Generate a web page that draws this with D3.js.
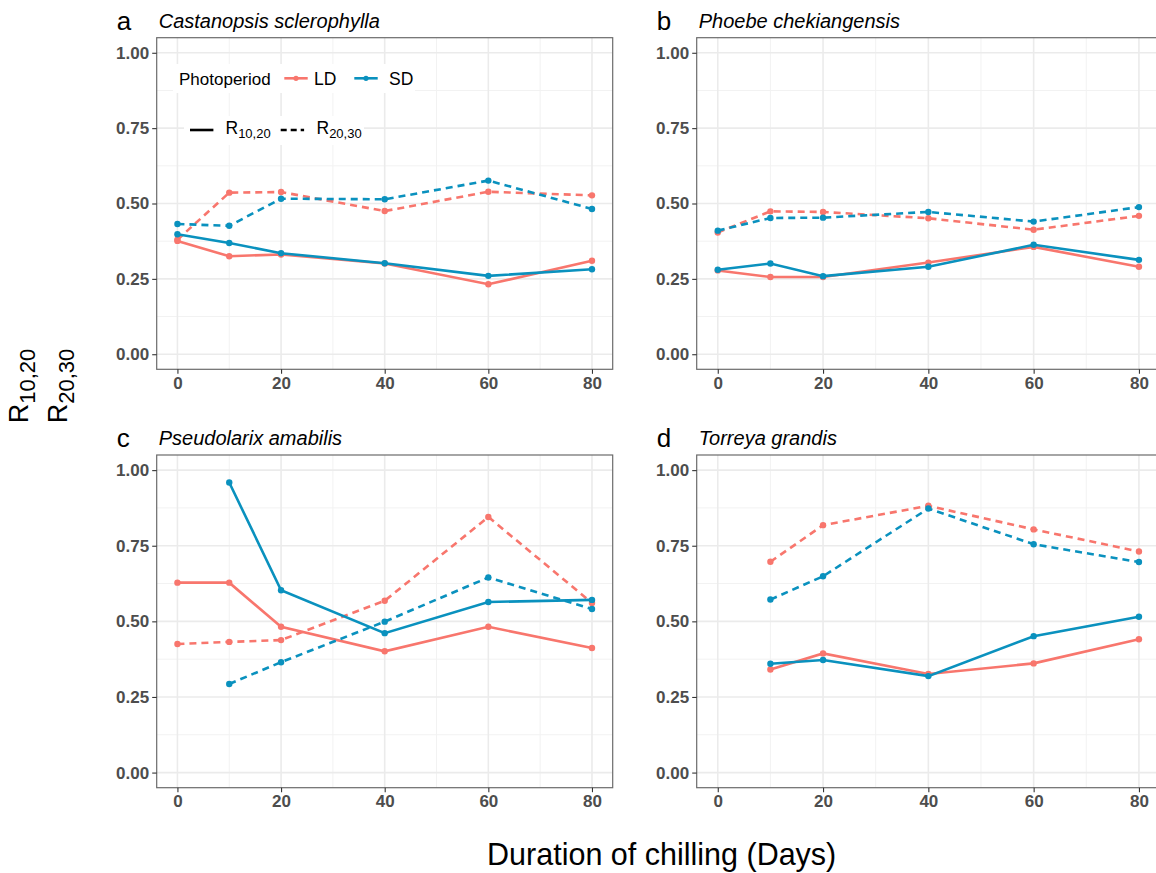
<!DOCTYPE html>
<html>
<head>
<meta charset="utf-8">
<script src="https://cdn.jsdelivr.net/npm/d3@7"></script>
<style>
  body { margin: 0; background: #fff; }
  svg { font-family: "Liberation Sans", Arial, sans-serif; }
</style>
</head>
<body>
<svg id="chart" width="1156" height="873"></svg>
<script>
// chilling durations (days)
const days = [0, 10, 20, 40, 60, 80];
const xTicks = [0, 20, 40, 60, 80];
const yTicks = [0, 0.25, 0.5, 0.75, 1];

const panelLetters = ["a", "b", "c", "d"];
const speciesNames = ["Castanopsis sclerophylla", "Phoebe chekiangensis", "Pseudolarix amabilis", "Torreya grandis"];

// R10,20 (solid) and R20,30 (dashed) per photoperiod, null = no data
const aLD1020 = [0.376, 0.325, 0.331, 0.301, 0.232, 0.310];
const aSD1020 = [0.398, 0.369, 0.335, 0.302, 0.260, 0.282];
const aLD2030 = [0.380, 0.536, 0.538, 0.475, 0.539, 0.527];
const aSD2030 = [0.432, 0.426, 0.516, 0.514, 0.576, 0.482];

const bLD1020 = [0.278, 0.256, 0.256, 0.304, 0.356, 0.290];
const bSD1020 = [0.280, 0.301, 0.259, 0.290, 0.363, 0.313];
const bLD2030 = [0.404, 0.474, 0.472, 0.451, 0.413, 0.459];
const bSD2030 = [0.410, 0.452, 0.453, 0.472, 0.440, 0.488];

const cLD1020 = [0.628, 0.628, 0.482, 0.401, 0.482, 0.412];
const cSD1020 = [null, 0.959, 0.603, 0.461, 0.564, 0.571];
const cLD2030 = [0.425, 0.432, 0.438, 0.568, 0.845, 0.561];
const cSD2030 = [null, 0.293, 0.365, 0.499, 0.645, 0.541];

const dLD1020 = [null, 0.341, 0.394, 0.326, 0.361, 0.441];
const dSD1020 = [null, 0.360, 0.372, 0.319, 0.451, 0.515];
const dLD2030 = [null, 0.697, 0.818, 0.882, 0.804, 0.731];
const dSD2030 = [null, 0.572, 0.649, 0.873, 0.755, 0.696];

const panelSeries = [
    [aLD1020, aLD2030, aSD1020, aSD2030],
    [bLD1020, bLD2030, bSD1020, bSD2030],
    [cLD1020, cLD2030, cSD1020, cSD2030],
    [dLD1020, dLD2030, dSD1020, dSD2030]
];
const seriesPhoto = ["LD", "LD", "SD", "SD"];
const seriesDashed = [false, true, false, true];

const colors = { LD: "#F8766D", SD: "#0A91BE" };

const svg = d3.select("#chart");

// panel boxes
const panelBoxes = [
    { left: 156.7, right: 612.7, top: 37.7, bottom: 369.3 },
    { left: 696.7, right: 1160, top: 37.7, bottom: 369.3 },
    { left: 156.7, right: 612.7, top: 455, bottom: 787.7 },
    { left: 696.7, right: 1160, top: 455, bottom: 787.7 }
];

function drawPanel(i) {
    const box = panelBoxes[i];
    const x = d3.scaleLinear().domain([-4, 84]).range([box.left, box.right]);
    const y = d3.scaleLinear().domain([-0.05, 1.05]).range([box.bottom, box.top]);
    const g = svg.append("g");

    // gridlines
    const minorX = [10, 30, 50, 70];
    const minorY = [0.125, 0.375, 0.625, 0.875];
    g.selectAll(".minx").data(minorX).enter().append("line")
        .attr("x1", d => x(d)).attr("x2", d => x(d))
        .attr("y1", box.top).attr("y2", box.bottom)
        .attr("stroke", "#F2F2F2").attr("stroke-width", 1);
    g.selectAll(".miny").data(minorY).enter().append("line")
        .attr("x1", box.left).attr("x2", box.right)
        .attr("y1", d => y(d)).attr("y2", d => y(d))
        .attr("stroke", "#F2F2F2").attr("stroke-width", 1);
    g.selectAll(".majx").data(xTicks).enter().append("line")
        .attr("x1", d => x(d)).attr("x2", d => x(d))
        .attr("y1", box.top).attr("y2", box.bottom)
        .attr("stroke", "#EBEBEB").attr("stroke-width", 1.6);
    g.selectAll(".majy").data(yTicks).enter().append("line")
        .attr("x1", box.left).attr("x2", box.right)
        .attr("y1", d => y(d)).attr("y2", d => y(d))
        .attr("stroke", "#EBEBEB").attr("stroke-width", 1.6);

    // legend lives inside panel a
    if (i === 0) drawLegend(g);

    // series
    const seriesList = panelSeries[i];
    seriesList.forEach((vals, k) => {
        const pts = days.map((d, j) => ({ day: d, v: vals[j] })).filter(p => p.v != null);
        const line = d3.line().x(p => x(p.day)).y(p => y(p.v));
        g.append("path")
            .attr("d", line(pts))
            .attr("fill", "none")
            .attr("stroke", colors[seriesPhoto[k]])
            .attr("stroke-width", 2.6)
            .attr("stroke-dasharray", seriesDashed[k] ? "7,5" : null);
        g.selectAll(null).data(pts).enter().append("circle")
            .attr("cx", p => x(p.day))
            .attr("cy", p => y(p.v))
            .attr("r", 3.2)
            .attr("fill", colors[seriesPhoto[k]]);
    });

    // border
    g.append("rect")
        .attr("x", box.left).attr("y", box.top)
        .attr("width", box.right - box.left).attr("height", box.bottom - box.top)
        .attr("fill", "none").attr("stroke", "#6b6b6b").attr("stroke-width", 1.2);

    // axes
    const xAxis = g.append("g")
        .attr("transform", `translate(0,${box.bottom})`)
        .call(d3.axisBottom(x).tickValues(xTicks).tickSize(4.5).tickPadding(3).tickFormat(d3.format("d")));
    const yAxis = g.append("g")
        .attr("transform", `translate(${box.left},0)`)
        .call(d3.axisLeft(y).tickValues(yTicks).tickSize(4.5).tickPadding(3).tickFormat(d3.format(".2f")));
    [xAxis, yAxis].forEach(ax => {
        ax.select(".domain").remove();
        ax.selectAll(".tick line").attr("stroke", "#333").attr("stroke-width", 1.1);
        ax.selectAll(".tick text")
            .attr("fill", "#4D4D4D")
            .attr("font-size", 17)
            .attr("font-weight", "bold")
            .attr("font-family", "Liberation Sans, Arial, sans-serif");
    });

    // letter and species title
    svg.append("text")
        .attr("x", box.left - 40).attr("y", box.top - 8)
        .attr("font-size", 26).attr("fill", "#000")
        .text(panelLetters[i]);
    svg.append("text")
        .attr("x", box.left + 2).attr("y", box.top - 10)
        .attr("font-size", 20).attr("font-style", "italic").attr("fill", "#000")
        .text(speciesNames[i]);
}

function drawLegend(g) {
    // white backgrounds of the two legend rows
    g.append("rect").attr("x", 173).attr("y", 64).attr("width", 242).attr("height", 29).attr("fill", "#fff");
    g.append("rect").attr("x", 184).attr("y", 116).attr("width", 180).attr("height", 29).attr("fill", "#fff");

    g.append("text").attr("x", 179).attr("y", 84.5).attr("font-size", 17).text("Photoperiod");
    const photoKeys = [
        { label: "LD", x0: 284.3, tx: 314 },
        { label: "SD", x0: 354.3, tx: 389 }
    ];
    photoKeys.forEach(k => {
        g.append("line").attr("x1", k.x0).attr("x2", k.x0 + 23.4)
            .attr("y1", 78.3).attr("y2", 78.3)
            .attr("stroke", colors[k.label]).attr("stroke-width", 2.6);
        g.append("circle").attr("cx", k.x0 + 11.7).attr("cy", 78.3).attr("r", 2.6)
            .attr("fill", colors[k.label]);
        g.append("text").attr("x", k.tx).attr("y", 84.5).attr("font-size", 17.5).text(k.label);
    });

    const typeKeys = [
        { sub: "10,20", x0: 190, tx: 225.5, dash: null },
        { sub: "20,30", x0: 280.7, tx: 316.5, dash: "6,4" }
    ];
    typeKeys.forEach(k => {
        g.append("line").attr("x1", k.x0).attr("x2", k.x0 + 23.4)
            .attr("y1", 130).attr("y2", 130)
            .attr("stroke", "#000").attr("stroke-width", 2.6)
            .attr("stroke-dasharray", k.dash);
        const t = g.append("text").attr("x", k.tx).attr("y", 134).attr("font-size", 17.5);
        t.append("tspan").text("R");
        t.append("tspan").attr("font-size", 13).attr("dy", 4).text(k.sub);
    });
}

panelLetters.forEach((_, i) => drawPanel(i));

// x axis title
svg.append("text")
    .attr("x", 661.7).attr("y", 865)
    .attr("text-anchor", "middle")
    .attr("font-size", 30.5)
    .text("Duration of chilling (Days)");

// y axis title (two rotated lines with subscripts)
const yTitleLines = [
    { sub: "10,20", bx: 28 },
    { sub: "20,30", bx: 67 }
];
yTitleLines.forEach(l => {
    const t = svg.append("text")
        .attr("transform", `translate(${l.bx},386) rotate(-90)`)
        .attr("text-anchor", "middle")
        .attr("font-size", 27);
    t.append("tspan").text("R");
    t.append("tspan").attr("font-size", 22).attr("dy", 7).text(l.sub);
});
</script>
</body>
</html>
